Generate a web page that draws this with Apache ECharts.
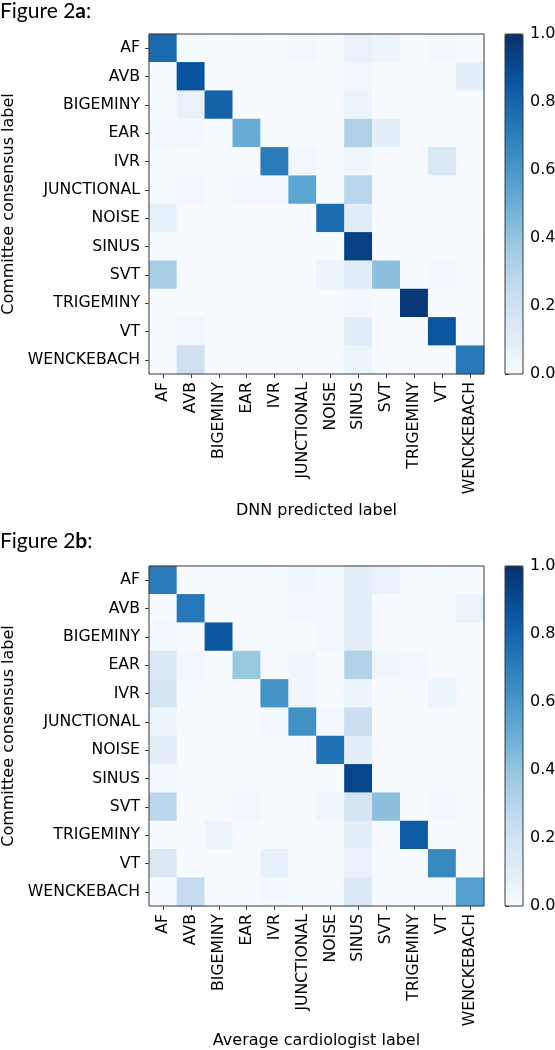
<!DOCTYPE html>
<html>
<head>
<meta charset="utf-8">
<script src="https://cdn.jsdelivr.net/npm/echarts@6/dist/echarts.min.js"></script>
<style>html,body{margin:0;padding:0;background:#fff}#c{width:555px;height:1050px}</style>
</head>
<body>
<div id="c"></div>
<script>
const classes = ['AF','AVB','BIGEMINY','EAR','IVR','JUNCTIONAL','NOISE','SINUS','SVT','TRIGEMINY','VT','WENCKEBACH'];
const colorbarTicks = [0, 0.2, 0.4, 0.6, 0.8, 1.0];

// Figure 2a: DNN predicted (columns) vs committee consensus (rows)
const dnn_AF    = [0.78,0.01,0.00,0.01,0.00,0.03,0.01,0.07,0.05,0.00,0.02,0.01];
const dnn_AVB   = [0.00,0.87,0.00,0.00,0.00,0.00,0.00,0.03,0.00,0.00,0.00,0.09];
const dnn_BIG   = [0.01,0.07,0.81,0.00,0.00,0.00,0.00,0.06,0.00,0.00,0.01,0.00];
const dnn_EAR   = [0.03,0.02,0.00,0.51,0.00,0.00,0.00,0.32,0.09,0.00,0.00,0.00];
const dnn_IVR   = [0.01,0.00,0.00,0.00,0.71,0.03,0.01,0.04,0.00,0.00,0.15,0.00];
const dnn_JUNC  = [0.01,0.03,0.00,0.03,0.02,0.54,0.00,0.29,0.01,0.00,0.00,0.00];
const dnn_NOISE = [0.08,0.00,0.00,0.00,0.00,0.00,0.77,0.11,0.00,0.00,0.00,0.00];
const dnn_SINUS = [0.00,0.00,0.00,0.01,0.00,0.00,0.00,0.94,0.00,0.00,0.00,0.01];
const dnn_SVT   = [0.34,0.00,0.00,0.00,0.00,0.00,0.06,0.11,0.42,0.00,0.02,0.00];
const dnn_TRIG  = [0.00,0.00,0.01,0.00,0.00,0.00,0.00,0.02,0.00,0.97,0.00,0.00];
const dnn_VT    = [0.00,0.03,0.00,0.00,0.00,0.00,0.00,0.11,0.00,0.00,0.86,0.00];
const dnn_WENCK = [0.00,0.20,0.00,0.00,0.00,0.00,0.00,0.05,0.00,0.00,0.00,0.72];

// Figure 2b: average cardiologist (columns) vs committee consensus (rows)
const card_AF    = [0.71,0.00,0.00,0.00,0.01,0.04,0.02,0.10,0.07,0.00,0.01,0.00];
const card_AVB   = [0.00,0.73,0.00,0.00,0.01,0.02,0.02,0.10,0.00,0.00,0.01,0.06];
const card_BIG   = [0.02,0.00,0.85,0.00,0.00,0.00,0.02,0.10,0.00,0.00,0.00,0.00];
const card_EAR   = [0.14,0.03,0.00,0.39,0.00,0.04,0.00,0.31,0.04,0.02,0.00,0.00];
const card_IVR   = [0.17,0.00,0.01,0.00,0.61,0.04,0.00,0.05,0.00,0.00,0.05,0.00];
const card_JUNC  = [0.05,0.00,0.00,0.00,0.02,0.63,0.02,0.22,0.00,0.00,0.00,0.00];
const card_NOISE = [0.09,0.00,0.00,0.00,0.00,0.00,0.75,0.10,0.00,0.00,0.00,0.00];
const card_SINUS = [0.02,0.01,0.01,0.01,0.00,0.00,0.01,0.92,0.00,0.01,0.00,0.01];
const card_SVT   = [0.28,0.00,0.00,0.03,0.00,0.00,0.04,0.17,0.42,0.00,0.02,0.00];
const card_TRIG  = [0.00,0.00,0.05,0.00,0.00,0.00,0.00,0.10,0.00,0.84,0.00,0.00];
const card_VT    = [0.14,0.00,0.00,0.00,0.08,0.00,0.01,0.07,0.01,0.00,0.66,0.00];
const card_WENCK = [0.00,0.25,0.00,0.00,0.02,0.01,0.01,0.14,0.00,0.00,0.00,0.56];

const dnnRows  = [dnn_AF,dnn_AVB,dnn_BIG,dnn_EAR,dnn_IVR,dnn_JUNC,dnn_NOISE,dnn_SINUS,dnn_SVT,dnn_TRIG,dnn_VT,dnn_WENCK];
const cardRows = [card_AF,card_AVB,card_BIG,card_EAR,card_IVR,card_JUNC,card_NOISE,card_SINUS,card_SVT,card_TRIG,card_VT,card_WENCK];

const blues = ['#f7fbff','#deebf7','#c6dbef','#9ecae1','#6baed6','#4292c6','#2171b5','#08519c','#08306b'];

function toCells(rows){
  const out = [];
  rows.forEach((r, i) => r.forEach((v, j) => out.push([j, i, v])));
  return out;
}

const tickFont = 'DejaVu Sans';
const frame = '#3a3a3a';

function heatGrid(top){
  return {left:149, top:top, width:335, height:340, show:true, borderColor:frame, borderWidth:1,
    backgroundColor:'transparent', z:5, containLabel:false, outerBoundsMode:'none'};
}
function barGrid(top){
  return {left:505, top:top, width:18, height:340, show:true, borderColor:frame, borderWidth:1,
    backgroundColor:'transparent', z:5, containLabel:false, outerBoundsMode:'none'};
}
function catX(gi, name, gap){
  return {type:'category', gridIndex:gi, data:classes, name:name, nameLocation:'middle', nameGap:gap,
    nameTextStyle:{fontFamily:tickFont, fontSize:16, color:'#000'},
    axisLine:{show:false}, splitLine:{show:false},
    axisTick:{show:true, alignWithLabel:true, length:4, lineStyle:{color:frame}},
    axisLabel:{rotate:90, margin:8, fontFamily:tickFont, fontSize:15.7, color:'#000', interval:0}};
}
function catY(gi){
  return {type:'category', gridIndex:gi, data:classes, inverse:true, name:'Committee consensus label', nameLocation:'middle', nameGap:123,
    nameTextStyle:{fontFamily:tickFont, fontSize:16, color:'#000'},
    axisLine:{show:false}, splitLine:{show:false},
    axisTick:{show:true, alignWithLabel:true, length:4, lineStyle:{color:frame}},
    axisLabel:{margin:9, fontFamily:tickFont, fontSize:15.7, color:'#000', interval:0}};
}
function barX(gi){
  return {type:'value', gridIndex:gi, show:false, min:0, max:1};
}
function barY(gi){
  return {type:'value', gridIndex:gi, position:'right', min:colorbarTicks[0], max:colorbarTicks[colorbarTicks.length-1], interval:0.2,
    axisLine:{show:false}, splitLine:{show:false},
    axisTick:{show:true, length:4, lineStyle:{color:frame}},
    axisLabel:{margin:7, fontFamily:tickFont, fontSize:16, color:'#000', formatter:v => v.toFixed(1)}};
}
function vmap(si, top){
  return {type:'continuous', seriesIndex:si, min:0, max:1, calculable:false, orient:'vertical',
    left:505, top:top, itemWidth:18, itemHeight:340, padding:0, hoverLink:false,
    inRange:{color:blues}};
}

const chart = echarts.init(document.getElementById('c'), null, {renderer:'canvas'});
chart.setOption({
  animation:false,
  backgroundColor:'#fff',
  title:[
    {text:'Figure 2{b|a}:', left:0, top:1, padding:0,
      textStyle:{fontFamily:'Lato', fontSize:21, fontWeight:'normal', color:'#000', rich:{b:{fontFamily:'Lato', fontSize:21, fontWeight:'bold', color:'#000'}}}},
    {text:'Figure 2{b|b}:', left:0, top:531, padding:0,
      textStyle:{fontFamily:'Lato', fontSize:21, fontWeight:'normal', color:'#000', rich:{b:{fontFamily:'Lato', fontSize:21, fontWeight:'bold', color:'#000'}}}}
  ],
  grid:[heatGrid(34), heatGrid(566), barGrid(34), barGrid(566)],
  xAxis:[catX(0,'DNN predicted label',129), catX(1,'Average cardiologist label',127), barX(2), barX(3)],
  yAxis:[catY(0), catY(1), barY(2), barY(3)],
  visualMap:[vmap(0,34), vmap(1,566)],
  series:[
    {type:'heatmap', xAxisIndex:0, yAxisIndex:0, data:toCells(dnnRows), emphasis:{disabled:true}},
    {type:'heatmap', xAxisIndex:1, yAxisIndex:1, data:toCells(cardRows), emphasis:{disabled:true}}
  ]
});
</script>
</body>
</html>
